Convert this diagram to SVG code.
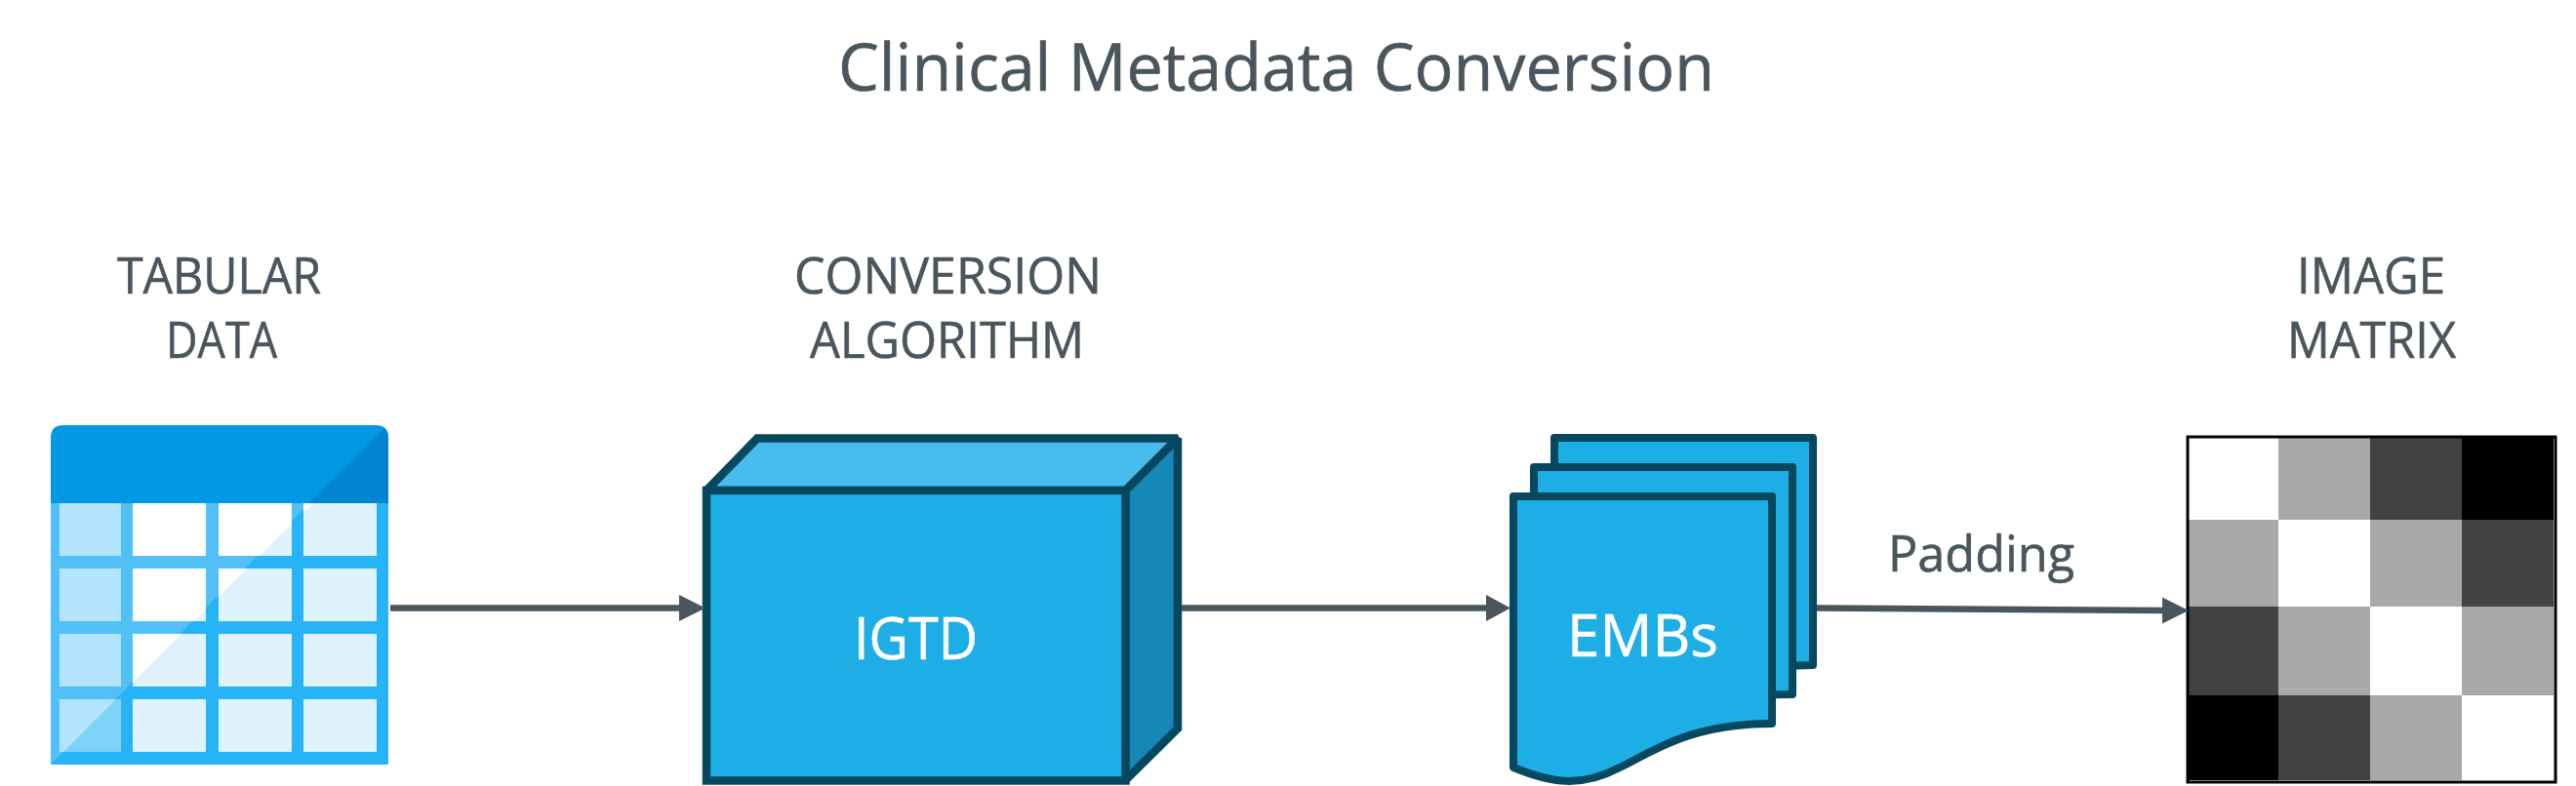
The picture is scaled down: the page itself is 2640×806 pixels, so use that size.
<svg xmlns="http://www.w3.org/2000/svg" width="2640" height="806" viewBox="0 0 2640 806">
<style>
text{font-family:"Open Sans","Liberation Sans",sans-serif;fill:#4a555c;stroke:#4a555c;stroke-width:.6}
.lb{font-size:52px}
.wt{fill:#fff;stroke:#fff;font-size:61px}
.box{stroke:#05485f;stroke-width:8.500;stroke-linejoin:miter;stroke-miterlimit:2}
.doc{fill:#1eaee6;stroke:#05485f;stroke-width:8;stroke-linejoin:round}
.w{fill:#fff}.g{fill:#a9a9a9}.d{fill:#424242}.k{fill:#000}
.cn{stroke:#4a555c;stroke-width:6.500;fill:none}
.hd{fill:#4a555c}
</style>
<defs>
<path id="page" d="M1551 509H1816V742C1730 742 1692 772 1660 787C1620 808 1590 803 1551 787Z"/>
<clipPath id="ul"><path d="M52 784L400 436H0V784Z"/></clipPath>
<g id="cells">
<rect x="136" y="516" width="75" height="54"/><rect x="224" y="516" width="75" height="54"/><rect x="311" y="516" width="75" height="54"/>
<rect x="136" y="583" width="75" height="54"/><rect x="224" y="583" width="75" height="54"/><rect x="311" y="583" width="75" height="54"/>
<rect x="136" y="650" width="75" height="54"/><rect x="224" y="650" width="75" height="54"/><rect x="311" y="650" width="75" height="54"/>
<rect x="136" y="717" width="75" height="54"/><rect x="224" y="717" width="75" height="54"/><rect x="311" y="717" width="75" height="54"/>
</g>
<g id="col1">
<rect x="61" y="516" width="63" height="54"/><rect x="61" y="583" width="63" height="54"/><rect x="61" y="650" width="63" height="54"/><rect x="61" y="717" width="63" height="54"/>
</g>
</defs>
<text id="title" x="859" y="93" font-size="67" textLength="898" lengthAdjust="spacingAndGlyphs">Clinical Metadata Conversion</text>
<g id="tabular">
<text class="lb" x="120" y="300.500" textLength="209" lengthAdjust="spacingAndGlyphs">TABULAR</text>
<text class="lb" x="170" y="366.500" textLength="114" lengthAdjust="spacingAndGlyphs">DATA</text>
<path fill="#27b4f6" d="M52 516H398V784H52Z"/>
<path fill="#50c0f7" d="M52 516H317L52 784Z"/>
<path fill="#0398e3" d="M52 516V449Q52 436 65 436H385Q398 436 398 449V516Z"/>
<path fill="#0185d0" d="M317 516L394 439Q398 443 398 449V516Z"/>
<use href="#cells" fill="#dff3fd"/>
<use href="#cells" fill="#fff" clip-path="url(#ul)"/>
<use href="#col1" fill="#80d1f9"/>
<use href="#col1" fill="#b3e4fb" clip-path="url(#ul)"/>
</g>
<g id="algorithm">
<text class="lb" x="814" y="300.500" textLength="315" lengthAdjust="spacingAndGlyphs">CONVERSION</text>
<text class="lb" x="830" y="366.500" textLength="281" lengthAdjust="spacingAndGlyphs">ALGORITHM</text>
<path class="box" fill="#48bcec" d="M724 503L776 449.500H1207L1153.500 503Z"/>
<path class="box" fill="#1688b7" d="M1153.500 503L1207 449.500V747L1153.500 800Z"/>
<rect class="box" fill="#1eaee6" x="724" y="503" width="429.500" height="297.500"/>
<text class="wt" x="875" y="676" textLength="127" lengthAdjust="spacingAndGlyphs">IGTD</text>
</g>
<g id="embs">
<use href="#page" class="doc" transform="translate(42 -60)"/>
<use href="#page" class="doc" transform="translate(21 -30)"/>
<use href="#page" class="doc"/>
<text class="wt" x="1606" y="672.500" font-size="60" textLength="155" lengthAdjust="spacingAndGlyphs">EMBs</text>
</g>
<g id="matrix">
<text class="lb" x="2354" y="301" textLength="152" lengthAdjust="spacingAndGlyphs">IMAGE</text>
<text class="lb" x="2344" y="367" textLength="173" lengthAdjust="spacingAndGlyphs">MATRIX</text>
<rect class="w" x="2241" y="448" width="378" height="354"/>
<rect class="g" x="2335" y="449" width="94" height="84"/><rect class="d" x="2429" y="449" width="94" height="84"/><rect class="k" x="2523" y="449" width="94" height="84"/>
<rect class="g" x="2242" y="533" width="93" height="89"/><rect class="g" x="2429" y="533" width="94" height="89"/><rect class="d" x="2523" y="533" width="94" height="89"/>
<rect class="d" x="2242" y="622" width="93" height="91"/><rect class="g" x="2335" y="622" width="94" height="91"/><rect class="g" x="2523" y="622" width="94" height="91"/>
<rect class="k" x="2242" y="713" width="93" height="87"/><rect class="d" x="2335" y="713" width="94" height="87"/><rect class="g" x="2429" y="713" width="94" height="87"/>
<rect x="2242" y="448" width="377" height="354" fill="none" stroke="#000" stroke-width="3"/>
</g>
<g id="connectors">
<path class="cn" d="M400 623.500H697"/><path class="hd" d="M696 610L723 623.500L696 637Z"/>
<path class="cn" d="M1211 623.500H1524"/><path class="hd" d="M1523 610L1548 623.500L1523 637Z"/>
<path class="cn" d="M1862 623.500L2217 626"/><path class="hd" d="M2216 612.500L2243 626L2216 639.500Z"/>
</g>
<text id="padding" class="lb" x="1935" y="585.500" textLength="191" lengthAdjust="spacingAndGlyphs">Padding</text>
</svg>
